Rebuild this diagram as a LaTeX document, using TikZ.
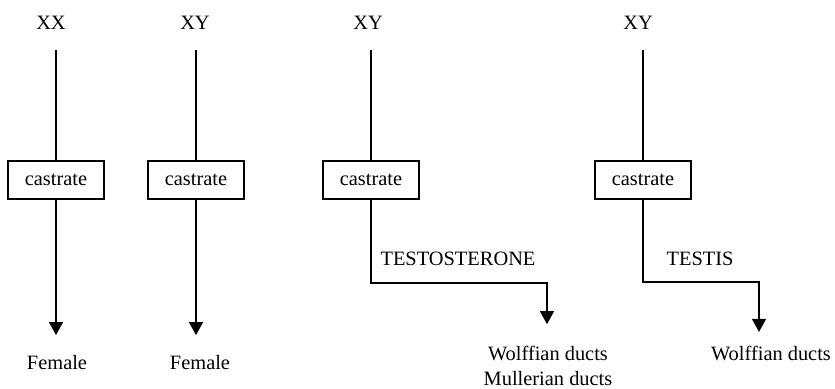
\documentclass[tikz,border=0pt]{standalone}
\usepackage{fontspec}
\setmainfont{Liberation Serif}
\usetikzlibrary{arrows.meta}

\tikzset{
  castbox/.style={draw,minimum width=48pt,minimum height=19pt,inner sep=0pt},
  tip/.style={-{Triangle[width=7pt,length=6.5pt]}},
}

\begin{document}
\begin{tikzpicture}[x=0.5pt,y=-0.5pt,line width=0.6pt,font=\fontsize{10.2}{12.3}\selectfont]
  \useasboundingbox (0,0) rectangle (835,388);
  % four columns: karyotype, then castrate
  \foreach \n/\x/\lx/\t in {a/56/51/XX,b/196/195/XY,c/371/368/XY,d/643/638/XY} {
    \node (top\n) at (\lx,23) {\t};
    \node[castbox] (cas\n) at (\x,180) {castrate};
    \draw[shorten <=6.75pt] (cas\n |- top\n.south) -- (cas\n.north);
  }
  \node (fema) at (57,363) {Female};
  \node (femb) at (200,363) {Female};
  \node (ductc) at (548,366) [align=center] {Wolffian ducts\\Mullerian ducts};
  \node (ductd) at (771,353) {Wolffian ducts};
  \node (testo) at (458,259) {TESTOSTERONE};
  \node (testis) at (700,259) {TESTIS};
  \coordinate (benc) at (547,283);
  \coordinate (bend) at (759,282);
  \draw[tip,shorten >=6.75pt] (casa) -- (casa |- fema.north);
  \draw[tip,shorten >=6.75pt] (casb) -- (casb |- femb.north);
  \draw[tip,shorten >=7.5pt] (casc) |- (benc) -- (benc |- ductc.north);
  \draw[tip,shorten >=3.25pt] (casd) |- (bend) -- (bend |- ductd.north);
\end{tikzpicture}
\end{document}
